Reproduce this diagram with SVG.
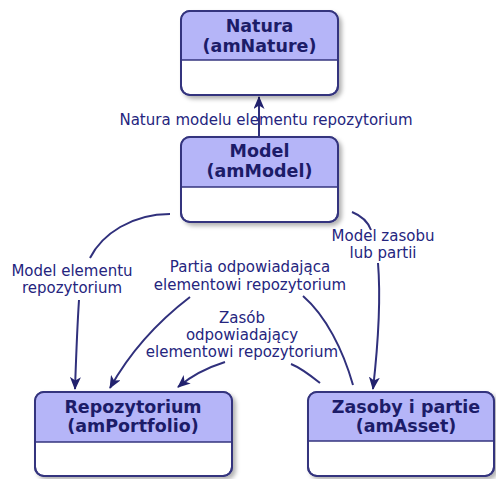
<svg xmlns="http://www.w3.org/2000/svg" width="496" height="479" viewBox="0 0 496 479">
  <style>
    .body { fill: #ffffff; stroke: #34347e; stroke-width: 2; }
    .head { fill: #b5b5f8; }
    .divider { stroke: #34347e; stroke-width: 1.5; }
    .title { font-family: "DejaVu Sans", Verdana, sans-serif; font-weight: bold; font-size: 17.5px; fill: #1c1c68; text-anchor: middle; }
    .label { font-family: "DejaVu Sans", Verdana, sans-serif; font-size: 15px; fill: #25257e; text-anchor: middle; }
    .conn { fill: none; stroke: #30307c; stroke-width: 2; }
  </style>
  <defs>
    <filter id="shadow" x="-10%" y="-10%" width="125%" height="130%">
      <feDropShadow dx="3" dy="3" stdDeviation="2" flood-color="#000000" flood-opacity="0.3"/>
    </filter>
    <marker id="arrow" viewBox="0 0 13 11" refX="12" refY="5.5" markerWidth="13" markerHeight="11" markerUnits="userSpaceOnUse" orient="auto">
      <path d="M0,0 L13,5.5 L0,11 L3.5,5.5 Z" fill="#22226e"/>
    </marker>
  </defs>

  <rect width="496" height="479" fill="#ffffff"/>

  <!-- connectors -->
  <g id="connectors">
    <!-- Model -> Natura -->
    <path class="conn" d="M259,137 L259,97" marker-end="url(#arrow)"/>
    <!-- Model -> Repozytorium -->
    <path class="conn" d="M170,214 C132,214 102,234 90,258"/>
    <path class="conn" d="M79,300 C77,330 76,360 75,389" marker-end="url(#arrow)"/>
    <!-- Zasoby -> Repozytorium (Partia) -->
    <path class="conn" d="M353,385 C343,350 326,316 303,296"/>
    <path class="conn" d="M190,297 C160,320 130,352 110,388" marker-end="url(#arrow)"/>
    <!-- Zasoby -> Repozytorium (Zasób) -->
    <path class="conn" d="M320,383 C310,375 301,368 291,364"/>
    <path class="conn" d="M225,362 C206,368 191,376 178,387" marker-end="url(#arrow)"/>
    <!-- Model -> Zasoby -->
    <path class="conn" d="M352,212 C362,216 368,222 371,230"/>
    <path class="conn" d="M378,263 C381,300 378,345 373,389" marker-end="url(#arrow)"/>
  </g>

  <!-- connector labels -->
  <g id="labels">
    <text class="label" x="266" y="125">Natura modelu elementu repozytorium</text>
    <text class="label" x="72" y="276">Model elementu</text>
    <text class="label" x="72" y="293">repozytorium</text>
    <text class="label" x="250" y="272">Partia odpowiadająca</text>
    <text class="label" x="250" y="290">elementowi repozytorium</text>
    <text class="label" x="242" y="323">Zasób</text>
    <text class="label" x="242" y="340">odpowiadający</text>
    <text class="label" x="242" y="357">elementowi repozytorium</text>
    <text class="label" x="383" y="241">Model zasobu</text>
    <text class="label" x="383" y="258">lub partii</text>
  </g>

  <g id="natura">
    <rect class="body" x="181" y="11" width="157" height="84" rx="9" filter="url(#shadow)"/>
    <path class="head" d="M182,60 L182,20 Q182,12 190,12 L329,12 Q337,12 337,20 L337,60 Z"/>
    <line class="divider" x1="181" y1="60" x2="338" y2="60"/>
    <rect x="181" y="11" width="157" height="84" rx="9" fill="none" stroke="#34347e" stroke-width="2"/>
    <text class="title" x="259.5" y="32">Natura</text>
    <text class="title" x="259.5" y="52">(amNature)</text>
  </g>

  <g id="model">
    <rect class="body" x="181" y="137" width="157" height="85" rx="9" filter="url(#shadow)"/>
    <path class="head" d="M182,187 L182,146 Q182,138 190,138 L329,138 Q337,138 337,146 L337,187 Z"/>
    <line class="divider" x1="181" y1="187" x2="338" y2="187"/>
    <rect x="181" y="137" width="157" height="85" rx="9" fill="none" stroke="#34347e" stroke-width="2"/>
    <text class="title" x="259.5" y="157">Model</text>
    <text class="title" x="259.5" y="177">(amModel)</text>
  </g>

  <g id="repozytorium">
    <rect class="body" x="35" y="392" width="197" height="84" rx="9" filter="url(#shadow)"/>
    <path class="head" d="M36,442 L36,401 Q36,393 44,393 L223,393 Q231,393 231,401 L231,442 Z"/>
    <line class="divider" x1="35" y1="442" x2="232" y2="442"/>
    <rect x="35" y="392" width="197" height="84" rx="9" fill="none" stroke="#34347e" stroke-width="2"/>
    <text class="title" x="133" y="413">Repozytorium</text>
    <text class="title" x="133" y="432">(amPortfolio)</text>
  </g>

  <g id="zasoby">
    <rect class="body" x="308" y="392" width="186" height="84" rx="9" filter="url(#shadow)"/>
    <path class="head" d="M309,441 L309,401 Q309,393 317,393 L485,393 Q493,393 493,401 L493,441 Z"/>
    <line class="divider" x1="308" y1="441" x2="494" y2="441"/>
    <rect x="308" y="392" width="186" height="84" rx="9" fill="none" stroke="#34347e" stroke-width="2"/>
    <text class="title" x="406" y="413">Zasoby i partie</text>
    <text class="title" x="406" y="432">(amAsset)</text>
  </g>
</svg>
